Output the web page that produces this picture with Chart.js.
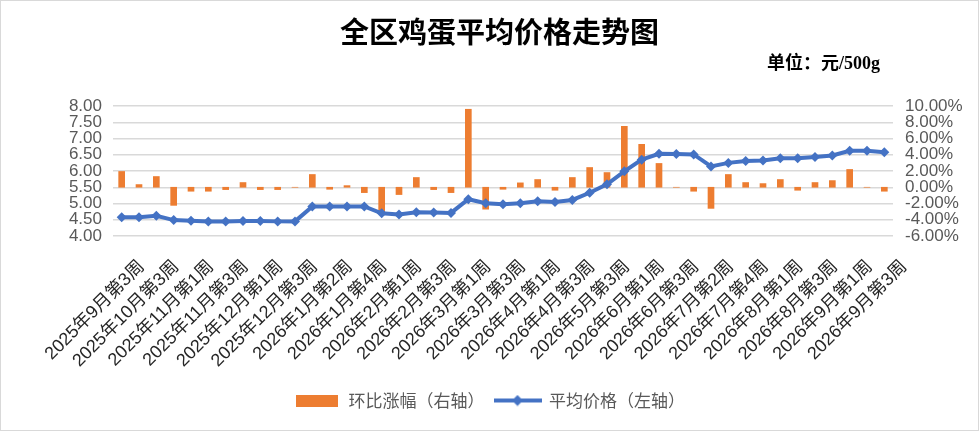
<!DOCTYPE html>
<html>
<head>
<meta charset="utf-8">
<script src="https://cdn.jsdelivr.net/npm/chart.js@4.4.1/dist/chart.umd.min.js"></script>
<style>
body{margin:0;background:#fff;}
#box{position:relative;width:979px;height:431px;background:#fff;}
#frame{position:absolute;left:0;top:0;width:979px;height:431px;box-sizing:border-box;border:1px solid #d9d9d9;pointer-events:none;}
#title{position:absolute;left:340px;top:16px;font-family:"Noto Sans CJK SC";font-weight:bold;font-size:29px;line-height:1;color:#000;white-space:nowrap;}
#unit{position:absolute;right:99px;top:54px;font-family:"Liberation Serif","Noto Sans CJK SC";font-weight:bold;font-size:18px;line-height:1;color:#000;white-space:nowrap;}
</style>
</head>
<body>
<div id="box">
  <canvas id="eggChart" width="979" height="431"></canvas>
  <div id="title">全区鸡蛋平均价格走势图</div>
  <div id="unit">单位：元/500g</div>
  <div id="frame"></div>
</div>
<script>
// weeks (only every other one is printed on the axis)
var weeks = [
  "2025年9月第3周","2025年9月第4周","2025年10月第3周","2025年10月第4周",
  "2025年11月第1周","2025年11月第2周","2025年11月第3周","2025年11月第4周",
  "2025年12月第1周","2025年12月第2周","2025年12月第3周","2026年1月第1周",
  "2026年1月第2周","2026年1月第3周","2026年1月第4周","2026年1月第5周",
  "2026年2月第1周","2026年2月第2周","2026年2月第3周","2026年2月第4周",
  "2026年3月第1周","2026年3月第2周","2026年3月第3周","2026年3月第4周",
  "2026年4月第1周","2026年4月第2周","2026年4月第3周","2026年5月第2周",
  "2026年5月第3周","2026年5月第4周","2026年6月第1周","2026年6月第2周",
  "2026年6月第3周","2026年7月第1周","2026年7月第2周","2026年7月第3周",
  "2026年7月第4周","2026年7月第5周","2026年8月第1周","2026年8月第2周",
  "2026年8月第3周","2026年8月第4周","2026年9月第1周","2026年9月第2周",
  "2026年9月第3周"
];

// average price, yuan/500g (left axis)
var avgPrice = [
  4.58,4.58,4.62,4.49,4.47,4.45,4.45,4.46,4.46,4.45,4.45,
  4.91,4.91,4.91,4.91,4.70,4.66,4.73,4.72,4.71,5.13,5.01,
  4.98,5.01,5.07,5.05,5.11,5.33,5.59,5.99,6.35,6.53,6.52,6.51,
  6.14,6.25,6.31,6.32,6.39,6.39,6.43,6.48,6.62,6.62,6.58
];

// week over week change in % (right axis)
var weekChange = [
  1.94,0.33,1.32,-2.23,-0.49,-0.49,-0.29,0.58,-0.29,-0.29,
  0,1.57,-0.25,0.2,-0.66,-3.0,-0.9,1.2,-0.29,-0.66,
  9.6,-2.7,-0.25,0.54,0.95,-0.37,1.2,2.43,1.81,7.5,
  5.28,2.93,0,-0.49,-2.6,1.57,0.58,0.45,0.95,-0.37,
  0.58,0.82,2.19,0,-0.49
];

var priceAxis = [4, 8, 0.5];     // min, max, step
var changeAxis = [-6, 10, 2];

var seriesNames = ["环比涨幅（右轴）", "平均价格（左轴）"];

var orange = '#ED7D31';
var blue = '#4472C4';

// little pictures for the legend
function legendBar(){
    var c = document.createElement('canvas');
    c.width = 42; c.height = 12;
    var g = c.getContext('2d');
    g.fillStyle = orange;
    g.fillRect(0, 0, 42, 12);
    return c;
}
function legendLine(){
    var c = document.createElement('canvas');
    c.width = 48; c.height = 12;
    var g = c.getContext('2d');
    g.strokeStyle = blue;
    g.lineWidth = 4;
    g.beginPath(); g.moveTo(0, 6); g.lineTo(48, 6); g.stroke();
    g.fillStyle = blue;
    g.beginPath();
    g.moveTo(24, 0.5); g.lineTo(29.5, 6); g.lineTo(24, 11.5); g.lineTo(18.5, 6);
    g.closePath(); g.fill();
    return c;
}

var barImg = legendBar();
var lineImg = legendLine();

var eggChart = new Chart('eggChart', {
    type: 'bar',
    data: {
        labels: weeks,
        datasets: [{
            type: 'bar',
            label: seriesNames[0],
            data: weekChange,
            yAxisID: 'y1',
            backgroundColor: orange,
            barThickness: 6,
            order: 1
        }, {
            type: 'line',
            label: seriesNames[1],
            data: avgPrice,
            yAxisID: 'y',
            borderColor: blue,
            backgroundColor: blue,
            borderWidth: 4,
            pointStyle: 'rectRot',
            pointRadius: 5,
            pointBorderWidth: 0,
            pointBackgroundColor: blue,
            tension: 0,
            order: 0
        }]
    },
    options: {
        responsive: false,
        animation: false,
        layout: { padding: { top: 106, bottom: 12, left: 0, right: 0 } },
        plugins: {
            tooltip: { enabled: false },
            legend: {
                position: 'bottom',
                labels: {
                    usePointStyle: true,
                    pointStyleWidth: 46,
                    boxHeight: 12,
                    padding: 10,
                    color: '#595959',
                    font: { family: '"Noto Sans CJK SC"', size: 17 },
                    generateLabels: function(chart){
                        return [
                            { text: seriesNames[0], pointStyle: barImg, fillStyle: orange, strokeStyle: orange, lineWidth: 0, datasetIndex: 0, fontColor: '#595959' },
                            { text: seriesNames[1], pointStyle: lineImg, fillStyle: blue, strokeStyle: blue, lineWidth: 0, datasetIndex: 1, fontColor: '#595959' }
                        ];
                    }
                }
            }
        },
        scales: {
            x: {
                offset: true,
                grid: { display: false },
                border: { display: false },
                ticks: {
                    autoSkip: false,
                    minRotation: 45,
                    maxRotation: 45,
                    padding: 12,
                    labelOffset: 20,
                    color: '#262626',
                    font: { family: '"Liberation Sans", "Noto Sans CJK SC"', size: 18 },
                    callback: function(v, i){
                        return i % 2 === 0 ? this.getLabelForValue(v) : '';
                    }
                },
                afterFit: function(s){ s.height = 146; }
            },
            y: {
                position: 'left',
                min: priceAxis[0],
                max: priceAxis[1],
                grid: { color: '#d9d9d9', lineWidth: 1.5, drawTicks: false },
                border: { display: false },
                ticks: {
                    autoSkip: false,
                    stepSize: priceAxis[2],
                    padding: 11,
                    color: '#595959',
                    font: { family: '"Liberation Sans"', size: 17 },
                    callback: function(v){ return v.toFixed(2); }
                },
                afterFit: function(s){ s.width = 113; }
            },
            y1: {
                position: 'right',
                min: changeAxis[0],
                max: changeAxis[1],
                grid: { display: false, drawTicks: false },
                border: { display: false },
                ticks: {
                    autoSkip: false,
                    stepSize: changeAxis[2],
                    padding: 12,
                    color: '#595959',
                    font: { family: '"Liberation Sans"', size: 17 },
                    callback: function(v){ return v.toFixed(2) + '%'; }
                },
                afterFit: function(s){ s.width = 86; }
            }
        }
    }
});
</script>
</body>
</html>
